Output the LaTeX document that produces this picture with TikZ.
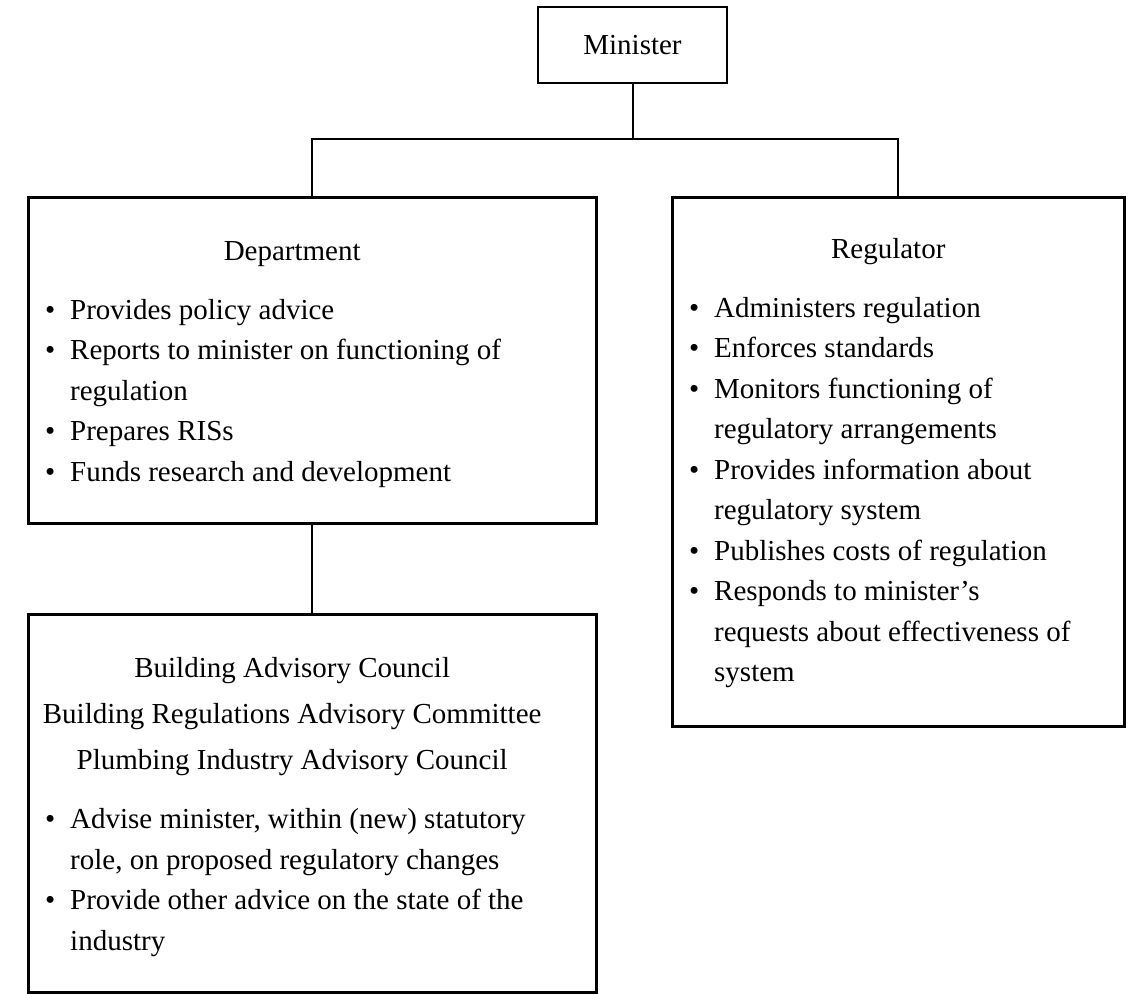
\documentclass[tikz,border=0pt]{standalone}
\usepackage{fontspec}
\setmainfont{Liberation Serif}
% centred heading line of a given width, and a bulleted entry with hanging indent
\newcommand{\orgtitle}[2]{\makebox[#1][c]{#2}\par}
\newcommand{\orgitem}[1]{\hangindent=25pt\hangafter=1\makebox[25pt][l]{\textbullet}#1\par}
\begin{document}
\begin{tikzpicture}[x=1pt,y=-1pt,
  orgbox/.style={draw, line width=2.6pt, inner sep=0pt, anchor=north west},
  link/.style={line width=2pt},
  bodytext/.style={inner sep=0pt, anchor=base west, font=\fontsize{29}{40.5}\selectfont}]
\useasboundingbox (0,0) rectangle (1139,993);

% boxes
\node[draw, line width=2.6pt, inner sep=0pt, minimum width=189pt, minimum height=76pt,
      font=\fontsize{29}{40.5}\selectfont] (minister) at (632.5,45) {Minister};
\node[orgbox, minimum width=568pt, minimum height=326pt] (dept) at (27,196) {};
\node[orgbox, minimum width=452pt, minimum height=529pt] (reg) at (671,196) {};
\node[orgbox, minimum width=568pt, minimum height=378pt] (bac) at (27,613) {};

% box contents
\node[bodytext] (depttext) at (45,260) {\parbox[t]{520pt}{%
  \orgtitle{494pt}{Department}\vspace{18.5pt}
  \orgitem{Provides policy advice}
  \orgitem{Reports to minister on functioning of\\regulation}
  \orgitem{Prepares RISs}
  \orgitem{Funds research and development}}};

\node[bodytext] (regtext) at (689,258) {\parbox[t]{420pt}{%
  \orgtitle{398pt}{Regulator}\vspace{18.5pt}
  \orgitem{Administers regulation}
  \orgitem{Enforces standards}
  \orgitem{Monitors functioning of\\regulatory arrangements}
  \orgitem{Provides information about\\regulatory system}
  \orgitem{Publishes costs of regulation}
  \orgitem{Responds to minister’s\\requests about effectiveness of\\system}}};

\node[bodytext] (bactext) at (45,677) {\parbox[t]{540pt}{%
  \orgtitle{494pt}{Building Advisory Council}\vspace{5.8pt}
  \orgtitle{494pt}{Building Regulations Advisory Committee}\vspace{5.8pt}
  \orgtitle{494pt}{Plumbing Industry Advisory Council}\vspace{18.5pt}
  \orgitem{Advise minister, within (new) statutory\\role, on proposed regulatory changes}
  \orgitem{Provide other advice on the state of the\\industry}}};

% connectors
\coordinate (bus) at (0,139);
\draw[link] (minister.south) -- (minister.south |- bus);
\draw[link] (dept.north) -- (dept.north |- bus) -- (reg.north |- bus) -- (reg.north);
\draw[link] (dept.south) -- (bac.north);
\end{tikzpicture}
\end{document}
